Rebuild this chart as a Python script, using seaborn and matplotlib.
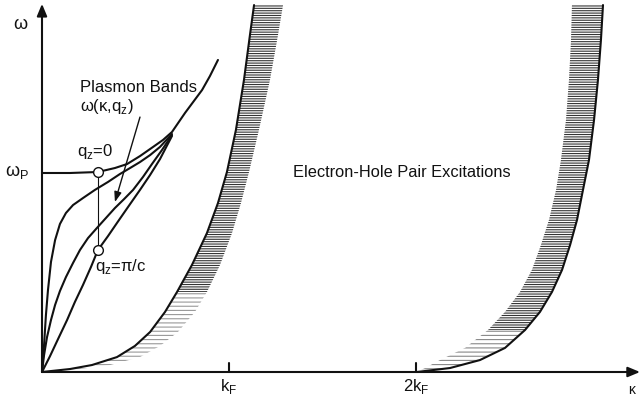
import numpy as np
import pandas as pd
import matplotlib
matplotlib.use("Agg")
import matplotlib.pyplot as plt
import seaborn as sns

# ---- data (kappa in units of k_F, omega in units of omega_p) ----
# plasmon band q_z = 0 (top)
qz0_k = [0, 0.150, 0.299, 0.390, 0.455, 0.524, 0.594, 0.647, 0.695, 0.765, 0.856, 0.898, 0.941]
qz0_w = [1.0, 1.0, 1.005, 1.025, 1.045, 1.085, 1.131, 1.166, 1.206, 1.302, 1.417, 1.487, 1.568]
# intermediate bands
bandA_k = [0, 0.011, 0.021, 0.032, 0.048, 0.070, 0.096, 0.128, 0.166, 0.219, 0.283, 0.353, 0.417, 0.471, 0.524, 0.578, 0.631, 0.695]
bandA_w = [0, 0.136, 0.286, 0.412, 0.553, 0.663, 0.744, 0.799, 0.839, 0.874, 0.915, 0.955, 0.995, 1.025, 1.055, 1.090, 1.131, 1.196]
bandB_k = [0, 0.011, 0.027, 0.048, 0.070, 0.096, 0.128, 0.166, 0.203, 0.246, 0.294, 0.342, 0.390, 0.439, 0.487, 0.540, 0.588, 0.642, 0.695]
bandB_w = [0, 0.085, 0.176, 0.261, 0.337, 0.407, 0.477, 0.548, 0.613, 0.673, 0.724, 0.774, 0.824, 0.869, 0.915, 0.980, 1.045, 1.116, 1.191]
# plasmon band q_z = pi/c (lowest)
qzpi_k = [0, 0.043, 0.086, 0.134, 0.176, 0.219, 0.262, 0.299, 0.353, 0.401, 0.460, 0.524, 0.578, 0.631, 0.695]
qzpi_w = [0, 0.080, 0.166, 0.261, 0.352, 0.437, 0.528, 0.613, 0.683, 0.749, 0.829, 0.915, 0.990, 1.070, 1.186]

# electron-hole continuum, left edge (upper bound) and hatched strip
eh1_w = [0, 0.015, 0.035, 0.075, 0.131, 0.201, 0.302, 0.402, 0.538, 0.698, 0.849, 1.005, 1.216, 1.467, 1.693, 1.844]
eh1_k = [0, 0.150, 0.267, 0.401, 0.497, 0.578, 0.658, 0.722, 0.802, 0.882, 0.941, 0.989, 1.037, 1.080, 1.112, 1.134]
eh1_shade = [0, 0.203, 0.364, 0.524, 0.631, 0.727, 0.818, 0.882, 0.952, 1.016, 1.064, 1.107, 1.160, 1.219, 1.262, 1.289]
# electron-hole continuum, right edge (lower bound, from 2k_F) and hatched strip
eh2_w = [0, 0.020, 0.060, 0.121, 0.211, 0.302, 0.402, 0.513, 0.638, 0.764, 0.915, 1.065, 1.266, 1.467, 1.668, 1.844]
eh2_k = [2.005, 2.182, 2.342, 2.476, 2.583, 2.663, 2.727, 2.781, 2.824, 2.861, 2.893, 2.925, 2.952, 2.973, 2.989, 3.000]
eh2_shade = [2.005, 2.048, 2.128, 2.262, 2.385, 2.476, 2.556, 2.620, 2.668, 2.711, 2.749, 2.775, 2.802, 2.818, 2.829, 2.834]

marker_k = [0.299, 0.299]
marker_w = [1.005, 0.613]

tick_pos = [1, 2]
tick_labels = ["k$_\\mathregular{F}$", "2k$_\\mathregular{F}$"]

# ---- figure ----
sns.set_theme(style="white")
plt.rcParams["font.family"] = ["Liberation Sans", "DejaVu Sans"]
plt.rcParams["hatch.linewidth"] = 0.8

fig = plt.figure(figsize=(6.42, 4.04), dpi=100)
ax = fig.add_axes([0, 0, 1, 1])
ax.set_xlim(-0.2246, 3.2086)
ax.set_ylim(-0.1608, 1.8693)
ax.axis("off")

ink = "#111111"
lw = 1.5

# hatched strips
split = 7
ax.fill_betweenx(eh1_w[split:], eh1_k[split:], eh1_shade[split:], facecolor="none",
                 edgecolor="#333333", hatch="-------", linewidth=0)
ax.fill_betweenx(eh1_w[:split + 1], eh1_k[:split + 1], eh1_shade[:split + 1], facecolor="none",
                 edgecolor="#999999", hatch="----", linewidth=0)
ax.fill_betweenx(eh2_w[4:], eh2_shade[4:], eh2_k[4:], facecolor="none",
                 edgecolor="#333333", hatch="-------", linewidth=0)
ax.fill_betweenx(eh2_w[:5], eh2_shade[:5], eh2_k[:5], facecolor="none",
                 edgecolor="#888888", hatch="----", linewidth=0)

# curves
for kk, ww in [(qz0_k, qz0_w), (bandA_k, bandA_w), (bandB_k, bandB_w), (qzpi_k, qzpi_w),
               (eh1_k, eh1_w), (eh2_k, eh2_w)]:
    sns.lineplot(x=kk, y=ww, ax=ax, sort=False, estimator=None, color=ink, linewidth=lw,
                 solid_joinstyle="round", solid_capstyle="round")

# connecting line between the two marked points
sns.lineplot(x=marker_k, y=marker_w, ax=ax, sort=False, estimator=None, color=ink, linewidth=0.8)
ax.plot(marker_k, marker_w, linestyle="none", marker="o", markersize=7,
        markerfacecolor="white", markeredgecolor=ink, markeredgewidth=1.0, zorder=5)

# axes with arrows
ax.annotate("", xy=(0, 1.85), xytext=(0, 0),
            arrowprops=dict(arrowstyle="-|>,head_length=0.6,head_width=0.25", color=ink, lw=1.5,
                            shrinkA=0, shrinkB=0))
ax.annotate("", xy=(3.198, 0), xytext=(0, 0),
            arrowprops=dict(arrowstyle="-|>,head_length=0.6,head_width=0.25", color=ink, lw=1.5,
                            shrinkA=0, shrinkB=0))
for t in tick_pos:
    ax.plot([t, t], [0, 0.045], color=ink, lw=1.5)

# pointer arrow for plasmon bands
ax.annotate("", xy=(0.390, 0.854), xytext=(0.524, 1.281),
            arrowprops=dict(arrowstyle="-|>,head_length=0.5,head_width=0.18", color=ink, lw=1.0,
                            shrinkA=0, shrinkB=0))

fs = 12
ax.text(0.203, 1.432, "Plasmon Bands", fontsize=fs, ha="left", va="center", color=ink)
ax.text(0.203, 1.332, "ω(κ,q$_\\mathregular{z}$)", fontsize=fs, ha="left", va="center", color=ink)
ax.text(0.187, 1.106, "q$_\\mathregular{z}$=0", fontsize=fs, ha="left", va="center", color=ink)
ax.text(0.283, 0.528, "q$_\\mathregular{z}$=π/c", fontsize=fs, ha="left", va="center", color=ink)
ax.text(1.342, 1.005, "Electron-Hole Pair Excitations", fontsize=11.8, ha="left", va="center", color=ink)
ax.text(-0.118, 1.744, "ω", fontsize=13, ha="center", va="center", color=ink)
ax.text(-0.134, 1.005, "ω$_\\mathregular{P}$", fontsize=13, ha="center", va="center", color=ink)
for t, lab in zip(tick_pos, tick_labels):
    ax.text(t, -0.075, lab, fontsize=fs, ha="center", va="center", color=ink)
ax.text(3.155, -0.090, "κ", fontsize=10, ha="center", va="center", color=ink)

fig.savefig("out.png", dpi=100)
